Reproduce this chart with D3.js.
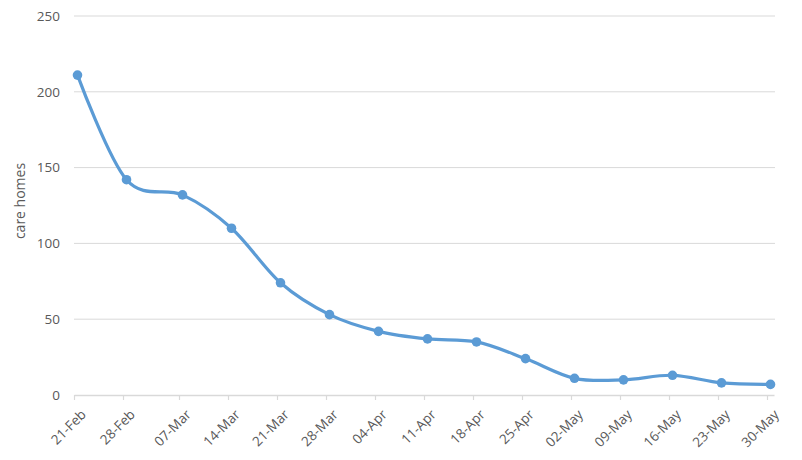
<!DOCTYPE html>
<html><head><meta charset="utf-8">
<script src="https://cdn.jsdelivr.net/npm/d3@7"></script>
<style>body{margin:0;background:#fff}svg{display:block}text{font-family:"Open Sans",sans-serif;fill:#595959}</style>
</head><body>
<svg id="c" width="802" height="460"></svg>
<script>
const dates = ["2020-02-21","2020-02-28","2020-03-07","2020-03-14","2020-03-21","2020-03-28","2020-04-04","2020-04-11","2020-04-18","2020-04-25","2020-05-02","2020-05-09","2020-05-16","2020-05-23","2020-05-30"];
const values = [211,142,132,110,74,53,42,37,35,24,11,10,13,8,7];
const yTicks = [0,50,100,150,200,250];
const yTitle = "care homes";

const parse = d3.utcParse("%Y-%m-%d");
const fmt = d3.utcFormat("%d-%b");
const svg = d3.select("#c");
const m = {left:74, right:774, top:16, bottom:395};
const x = d3.scaleUtc().domain([parse(dates[0]), d3.utcDay.offset(parse(dates[dates.length-1]),1)]).range([m.left, m.right]);
const y = d3.scaleLinear().domain([0,250]).range([m.bottom, m.top]);

// gridlines
svg.append("g").selectAll("line").data(yTicks.filter(t=>t>0)).join("line")
  .attr("x1", m.left).attr("x2", m.right+1).attr("y1", d=>y(d)).attr("y2", d=>y(d))
  .attr("stroke","#d9d9d9").attr("stroke-width",1);

// y labels
const ya = svg.append("g").attr("transform",`translate(${m.left},0)`)
  .call(d3.axisLeft(y).tickValues(yTicks).tickSize(0).tickPadding(14));
ya.select(".domain").remove();
ya.selectAll("text").style("font-size","13.5px").style("font-family","'Open Sans',sans-serif").attr("fill","#595959");

// x axis
const tickDates = dates.map(parse);
const xa = svg.append("g").attr("transform",`translate(0,${m.bottom})`)
  .call(d3.axisBottom(x).tickValues(tickDates).tickFormat(fmt).tickSize(5).tickPadding(4).tickSizeOuter(0));
xa.select(".domain").attr("stroke","#d9d9d9").attr("stroke-width",1.5);
xa.selectAll(".tick line").attr("stroke","#d9d9d9").attr("stroke-width",1.2);
xa.selectAll("text").style("font-size","13.5px").style("font-family","'Open Sans',sans-serif").attr("fill","#595959")
  .attr("text-anchor","end").attr("dx",0).attr("dy","0.35em")
  .attr("y",0).attr("x",0)
  .attr("transform","translate(9,17) rotate(-45)");

// y title
svg.append("text").attr("transform",`translate(25,201) rotate(-90)`).attr("text-anchor","middle")
  .style("font-size","14px").text(yTitle);

// line
const pts = dates.map((d,i)=>({t:d3.utcHour.offset(parse(d),12), v:values[i]}));
const line = d3.line().x(d=>x(d.t)).y(d=>y(d.v)).curve(d3.curveCardinal.tension(0));
svg.append("path").datum(pts).attr("d",line).attr("fill","none").attr("stroke","#5b9bd5")
  .attr("stroke-width",3.2).attr("stroke-linecap","round").attr("stroke-linejoin","round");
svg.append("g").selectAll("circle").data(pts).join("circle")
  .attr("cx",d=>x(d.t)).attr("cy",d=>y(d.v)).attr("r",4.8).attr("fill","#5b9bd5");
</script>
</body></html>
